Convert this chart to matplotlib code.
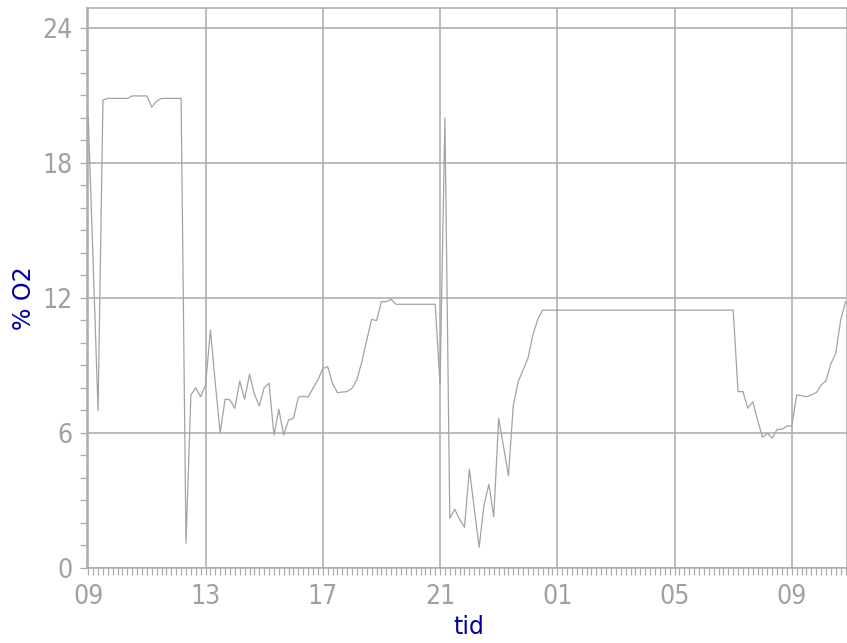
import matplotlib
matplotlib.use("Agg")
import matplotlib.pyplot as plt
import matplotlib.dates as mdates
import pandas as pd

# ---- data (10-minute readings, % O2) ----
times = ["09:00", "09:20", "09:30", "09:40", "10:20", "10:30", "11:00", "11:10", "11:20", "11:30",
         "12:10", "12:20", "12:30", "12:40", "12:50", "13:00", "13:10", "13:20", "13:30", "13:40",
         "13:50", "14:00", "14:10", "14:20", "14:30", "14:40", "14:50", "15:00", "15:10", "15:20",
         "15:30", "15:40", "15:50", "16:00", "16:10", "16:20", "16:30", "16:40", "16:50", "17:00",
         "17:10", "17:20", "17:30", "17:40", "17:50", "18:00", "18:10", "18:20", "18:30", "18:40",
         "18:50", "19:00", "19:10", "19:20", "19:30", "20:50", "21:00", "21:10", "21:20", "21:30",
         "21:40", "21:50", "22:00", "22:10", "22:20", "22:30", "22:40", "22:50", "23:00", "23:10",
         "23:20", "23:30", "23:40", "23:50", "00:00", "00:10", "00:20", "00:30", "07:00", "07:10",
         "07:20", "07:30", "07:40", "07:50", "08:00", "08:10", "08:20", "08:30", "08:40", "08:50",
         "09:00", "09:10", "09:20", "09:30", "09:40", "09:50", "10:00", "10:10", "10:20", "10:30",
         "10:40", "10:50"]
o2 = [20.0, 7.0, 20.8, 20.87, 20.87, 20.98, 20.98, 20.48, 20.75, 20.87,
      20.87, 1.1, 7.69, 8.01, 7.61, 8.13, 10.58, 8.2, 6.01, 7.5,
      7.47, 7.1, 8.31, 7.5, 8.61, 7.73, 7.2, 8.01, 8.21, 5.91,
      7.05, 5.91, 6.58, 6.65, 7.59, 7.64, 7.59, 7.99, 8.36, 8.87,
      8.95, 8.2, 7.79, 7.82, 7.84, 7.99, 8.39, 9.17, 10.13, 11.05,
      10.99, 11.84, 11.84, 11.94, 11.72, 11.72, 8.15, 20.0, 2.21, 2.61,
      2.16, 1.81, 4.39, 2.65, 0.92, 2.8, 3.72, 2.28, 6.65, 5.39,
      4.1, 7.24, 8.28, 8.8, 9.32, 10.36, 11.05, 11.46, 11.46, 7.84,
      7.84, 7.1, 7.39, 6.58, 5.81, 5.99, 5.77, 6.16, 6.16, 6.31,
      6.31, 7.69, 7.66, 7.61, 7.69, 7.79, 8.13, 8.32, 9.07, 9.54,
      11.02, 11.84]
y_ticks = [0, 6, 12, 18, 24]
x_label = "tid"
y_label = "% O2"

# build datetimes with day rollover
base = pd.Timestamp("2024-01-01")
stamps = []
day = 0
prev = None
for t in times:
    h, m = map(int, t.split(":"))
    mins = h * 60 + m
    if prev is not None and mins < prev:
        day += 1
    prev = mins
    stamps.append(base + pd.Timedelta(days=day, minutes=mins))

GRID = "#ababab"
LINE = "#a3a3a3"
TXT = "#a0a0a0"
BLUE = "#0000a0"

fig = plt.figure(figsize=(8.47, 6.43), dpi=100)
ax = fig.add_axes([86.5 / 847, 1 - 568 / 643, 1 - 86.5 / 847, (568 - 7.5) / 643])

ax.plot(stamps, o2, color=LINE, lw=0.9, zorder=3)

ax.set_xlim(base + pd.Timedelta(hours=8, minutes=56, seconds=20),
            base + pd.Timedelta(days=1, hours=10, minutes=53))
ax.set_ylim(0, 24.91)

ax.xaxis.set_major_locator(mdates.HourLocator(byhour=[1, 5, 9, 13, 17, 21]))
ax.xaxis.set_major_formatter(mdates.DateFormatter("%H"))
ax.xaxis.set_minor_locator(mdates.MinuteLocator(byminute=[0, 10, 20, 30, 40, 50]))
ax.set_yticks(y_ticks)
ax.set_yticks(range(0, 25), minor=True)

ax.grid(True, which="major", color=GRID, lw=1.1, zorder=1)
for s in ax.spines.values():
    s.set_color(GRID)
    s.set_linewidth(1.1)

ax.tick_params(axis="both", which="both", direction="out", length=5.2, width=0.9,
               color=GRID, labelcolor=TXT, labelsize=19)
ax.tick_params(axis="x", which="major", pad=6)
ax.tick_params(axis="y", which="major", pad=5)
for lab in ax.get_xticklabels() + ax.get_yticklabels():
    lab.set_fontstretch("condensed")

fig.text(469 / 847, 1 - 627 / 643, x_label, color=BLUE, fontsize=17,
         ha="center", va="center")
fig.text(24 / 847, 1 - 298 / 643, y_label, color=BLUE, fontsize=17,
         ha="center", va="center", rotation=90)

fig.savefig("out.png", dpi=100)
